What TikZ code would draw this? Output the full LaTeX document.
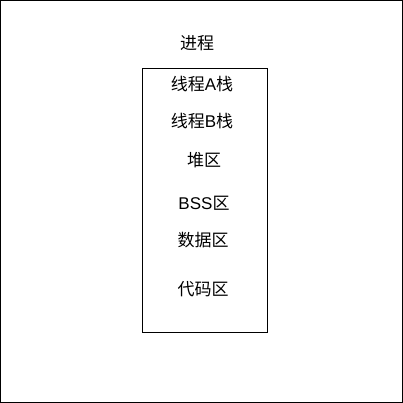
\documentclass[tikz,border=0pt]{standalone}
\usepackage{fontspec}
\setmainfont{Liberation Sans}
\newfontfamily\cjk{Noto Sans CJK SC}
\usepackage{tikz}
\definecolor{memline}{RGB}{0, 0, 0}
\newcommand{\zh}[1]{{\cjk #1}}

\begin{document}
\begin{tikzpicture}[x=1pt, y=-1pt, line width=1pt,
  seg/.style={font=\fontsize{17}{19}\selectfont, inner sep=0pt}]
% Outer frame
\useasboundingbox (0,0) rectangle (403,403);
\draw[memline] (0.5,0.5) rectangle (402.5,402.5);

% Process title
\node[seg] (proc) at (197,43) {\zh{进程}};

% Memory layout
\draw[memline] (142,69) rectangle (267,332);
\node[seg] (stackA) at (202,84) {\zh{线程}A\zh{栈}};
\node[seg] (stackB) at (202,121) {\zh{线程}B\zh{栈}};
\node[seg] (heap) at (204,160) {\zh{堆区}};
\node[seg] (bss) at (204,203) {BSS\zh{区}};
\node[seg] (data) at (203,240) {\zh{数据区}};
\node[seg] (code) at (203,289) {\zh{代码区}};
\end{tikzpicture}
\end{document}
